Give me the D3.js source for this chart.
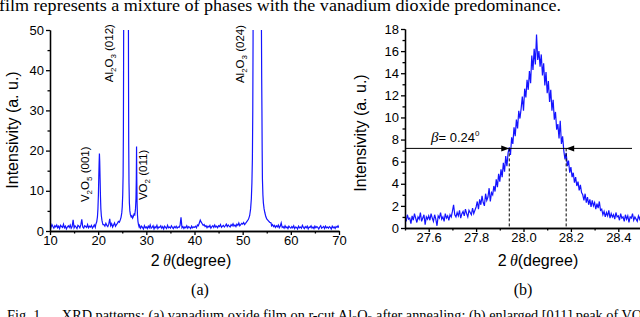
<!DOCTYPE html>
<html>
<head>
<meta charset="utf-8">
<title>XRD patterns</title>
<script src="https://d3js.org/d3.v7.min.js"></script>
<style>
  body { margin: 0; background: #fff; }
  svg { display: block; }
  .tick text { font-family: "Liberation Sans", Arial, sans-serif; font-size: 13px; fill: #000; }
  .axis path, .axis line { stroke: #000; stroke-width: 1.3; }
  .sans { font-family: "Liberation Sans", Arial, sans-serif; }
  .serif { font-family: "Liberation Serif", "Times New Roman", serif; }
</style>
</head>
<body>
<svg id="fig" width="640" height="317"></svg>
<script>
// ---- panel (a): wide scan, background read every 0.2 deg from 10 deg
const scanStart = 10, scanStep = 0.2
const scanY = [
  1.4,0.9,1.6,1.1,0.7,1.3,1.0,1.5,0.8,1.2,
  0.6,1.4,1.1,0.9,1.7,0.8,1.2,0.5,1.0,1.3,
  0.9,1.5,0.7,1.1,2.8,0.8,1.3,1.0,0.6,1.4,
  1.2,0.8,1.5,2.9,1.0,0.7,1.3,1.1,0.9,1.6,
  0.8,1.2,1.0,1.4,0.7,1.1,1.5,0.9,1.3,1.0,
  1.2,1.0,1.0,1.0,1.0,1.0,1.6,1.2,1.9,1.4,
  1.1,1.7,3.0,1.3,1.8,1.0,1.5,2.0,1.2,1.6,
  1.9,2.4,1.8,2.6,2.2,2.5,2.5,2.5,2.5,2.5,
  2,2,2,2,2,2,2,2,2,2,
  1.0,1.0,1.0,1.4,0.7,1.2,0.9,0.5,1.3,0.8,
  1.0,0.6,1.2,0.8,1.5,0.7,0.9,1.3,0.5,1.1,
  0.8,1.4,0.6,1.0,0.9,1.3,0.7,1.1,0.5,1.2,
  0.9,0.6,1.4,0.8,1.0,0.7,1.3,0.9,0.6,1.1,
  0.8,1.2,0.7,1.0,0.9,1.4,3.4,0.8,1.1,0.6,
  1.0,0.8,1.3,0.7,1.1,0.9,0.6,1.2,0.8,1.0,
  0.9,1.2,0.8,1.5,1.3,2.0,2.7,2.2,1.8,1.4,
  1.6,1.1,1.3,0.8,1.2,1.0,1.4,0.7,1.1,1.3,
  0.9,1.5,1.0,1.2,0.8,1.3,1.1,1.6,0.9,1.2,
  1.4,1.0,1.3,1.7,1.1,1.5,1.2,1.0,1.6,1.3,
  1.8,1.2,1.5,1.1,1.7,1.4,2.0,1.3,1.6,1.9,
  1.7,2.1,1.6,2.3,1.9,2.6,2.2,2.5,2.5,2.5,
  2,2,2,2,2,2,2,2,2,2,
  2,2,2,2,2,2.3,1.7,2.1,1.5,1.9,
  1.3,1.6,1.1,1.4,0.9,1.3,1.0,1.5,0.8,1.2,
  2.0,0.9,1.1,0.7,1.3,0.8,1.0,0.6,1.2,0.9,
  0.7,1.1,0.8,1.3,0.6,1.0,0.9,0.5,1.2,0.8,
  1.0,0.7,1.4,0.9,0.6,1.1,0.8,1.2,0.5,1.0,
  0.9,1.3,0.7,1.0,0.6,1.2,0.8,1.1,0.9,0.5,
  1.0,1.3,0.7,0.9,1.1,0.6,1.2,0.8,1.0,0.7,
  1.1,0.9,0.5,1.2,0.8,1.0,0.6,1.1,0.9,1.3,
  0.8
]
// peaks read at finer steps (Al2O3 peaks run far above 50)
const peakV2O5 = [[19.5,1.6],[19.7,2.3],[19.85,3.5],[19.95,5.5],[20.05,9],[20.13,13.5],[20.2,17],[20.26,19.3],
  [20.32,17.5],[20.4,13],[20.48,8.5],[20.56,5.5],[20.66,3.8],[20.78,2.7],[20.9,2.0],[21.0,1.6]]
const peakAl012VO2 = [[24.4,2.2],[24.6,2.8],[24.75,3.4],[24.9,4.5],[25.0,6],[25.1,9],[25.18,14],[25.24,25],
  [25.28,42],[25.31,60],[25.4,200],[25.8,2000],[26.2,200],[26.27,60],[26.3,40],[26.34,22],[26.4,12],[26.48,7],
  [26.58,5],[26.7,4],[26.85,3.5],[27.0,3.8],[27.15,3.2],[27.3,3.6],[27.45,4.2],[27.6,4.0],[27.75,5.5],[27.85,8],
  [27.92,13],[27.97,21],[28.02,13],[28.08,7],[28.16,4],[28.26,2.4],[28.38,1.5],[28.5,1.0]]
const peakAl024 = [[50.6,1.9],[50.9,2.4],[51.2,2.9],[51.45,3.8],[51.65,5.5],[51.8,8],[51.92,12],[52.02,18],
  [52.1,30],[52.16,48],[52.2,80],[53.0,3000],[53.85,80],[53.9,50],[53.95,38],[54.0,30],[54.05,20],[54.1,13],
  [54.2,9],[54.3,7],[54.45,5.5],[54.6,4.6],[54.8,3.6],[55.0,3.0],[55.3,2.6],[55.6,2.2],[55.9,2.0]]
const ticksAx = [10,20,30,40,50,60,70]
const ticksAy = [0,10,20,30,40,50]

// ---- panel (b): VO2 (011) peak, read every 0.005 deg from 27.5
const zoomStart = 27.5, zoomStep = 0.005
const zoomY = [
  1.0,0.6,1.2,0.8,0.9,0.4,1.1,0.7,1.3,0.9,
  0.5,1.0,0.8,1.4,0.6,0.9,1.2,0.3,1.0,0.8,
  1.1,0.7,1.3,0.9,0.6,1.2,0.8,0.2,1.1,0.9,
  1.4,0.8,1.0,0.6,1.3,0.9,1.1,0.7,1.2,1.0,
  1.5,2.1,1.2,1.0,1.4,1.1,1.6,0.9,1.3,1.5,
  1.1,1.7,1.3,1.0,1.6,1.4,1.2,1.8,1.3,1.6,
  1.9,2.4,1.7,2.6,2.1,2.9,2.3,2.0,3.1,2.5,2.8,3.6,2.4,3.2,
  3.0,3.8,3.3,4.4,3.7,4.9,4.2,5.3,4.6,5.9,5.1,6.5,5.6,6.8,
  7.3,6.6,8.2,7.6,9.1,8.3,9.8,9.0,10.6,9.9,
  10.8,11.9,10.6,12.6,11.8,13.4,12.5,14.2,13.1,15.6,
  14.3,16.2,14.8,17.5,15.2,16.0,
  14.6,15.7,13.8,14.9,12.9,14.1,12.2,13.3,11.4,12.5,10.6,11.6,
  9.8,10.5,8.9,9.4,8.1,9.7,7.6,8.3,
  7.0,6.2,6.8,5.6,6.1,5.0,5.5,4.6,5.0,4.1,4.6,3.8,4.2,3.4,3.9,3.2,
  3.0,2.5,3.1,2.3,2.8,2.1,2.6,1.9,2.5,2.0,2.3,1.7,2.2,1.8,2.4,1.6,
  1.7,1.2,1.5,1.0,1.4,1.1,1.6,0.9,1.3,1.0,
  1.2,0.8,1.4,1.0,1.1,0.7,1.3,0.9,1.0,0.6,
  1.2,0.8,1.1,0.5,1.0,0.9,1.3,0.7,1.0,0.8,
  0.6,1.1,0.8,1.2,0.9
]
const ticksBx = [27.6,27.8,28.0,28.2,28.4]
const ticksBy = [0,2,4,6,8,10,12,14,16,18]
const fwhmEdges = [27.94, 28.18]
const fwhmLevel = 7.2

const svg = d3.select('#fig')
const blue = '#1414ff'

// merge the background scan with the peak segments
const peaks = [peakV2O5, peakAl012VO2, peakAl024]
let dataA = scanY.map((v, i) => [scanStart + i * scanStep, v])
  .filter(d => !peaks.some(p => d[0] >= p[0][0] - 0.05 && d[0] <= p[p.length - 1][0] + 0.05))
peaks.forEach(p => { dataA = dataA.concat(p) })
dataA.sort((a, b) => a[0] - b[0])
const dataB = zoomY.map((v, i) => [zoomStart + i * zoomStep, v])

function minorAxis(axisFn, scale, values, size) {
  return axisFn(scale).tickValues(values).tickSize(size).tickSizeOuter(0).tickFormat('')
}

function drawPanel(o) {
  const g = svg.append('g')
  g.append('clipPath').attr('id', o.id).append('rect')
    .attr('x', o.x.range()[0]).attr('y', o.y.range()[1])
    .attr('width', o.x.range()[1] - o.x.range()[0]).attr('height', o.y.range()[0] - o.y.range()[1])

  g.append('path').datum(o.data)
    .attr('clip-path', 'url(#' + o.id + ')')
    .attr('fill', 'none').attr('stroke', blue).attr('stroke-width', 1.2)
    .attr('d', d3.line().x(d => o.x(d[0])).y(d => o.y(d[1])))

  g.append('g').attr('class', 'axis').attr('transform', 'translate(0,' + o.y.range()[0] + ')')
    .call(minorAxis(d3.axisBottom, o.x, o.xMinor, 2.5))
  g.append('g').attr('class', 'axis').attr('transform', 'translate(' + o.x.range()[0] + ',0)')
    .call(minorAxis(d3.axisLeft, o.y, o.yMinor, 2.5))
  g.append('g').attr('class', 'axis').attr('transform', 'translate(0,' + o.y.range()[0] + ')')
    .call(d3.axisBottom(o.x).tickValues(o.xTicks).tickSize(4).tickPadding(1).tickSizeOuter(0).tickFormat(o.xFmt))
  g.append('g').attr('class', 'axis').attr('transform', 'translate(' + o.x.range()[0] + ',0)')
    .call(d3.axisLeft(o.y).tickValues(o.yTicks).tickSize(4).tickPadding(2).tickSizeOuter(0))

  // axis titles
  const xt = g.append('text').attr('class', 'sans').attr('x', o.xTitle[0]).attr('y', o.xTitle[1])
    .attr('text-anchor', 'middle').style('font-size', '16px')
  xt.append('tspan').text('2\u2009')
  xt.append('tspan').attr('class', 'serif').style('font-style', 'italic').text('\u03b8')
  xt.append('tspan').text('(degree)')
  g.append('text').attr('class', 'sans').style('font-size', '16px')
    .attr('transform', 'translate(' + o.yTitle[0] + ',' + o.yTitle[1] + ') rotate(-90)')
    .attr('text-anchor', 'middle').text('Intensivity (a. u.)')
  g.append('text').attr('class', 'serif').style('font-size', '16px')
    .attr('x', o.tag[0]).attr('y', o.tag[1]).attr('text-anchor', 'middle').text(o.tagText)
  return g
}

const xA = d3.scaleLinear().domain([10, 70]).range([50, 339])
const yA = d3.scaleLinear().domain([0, 50]).range([231, 30])
const gA = drawPanel({
  id: 'clipA', x: xA, y: yA, data: dataA,
  xTicks: ticksAx, yTicks: ticksAy,
  xMinor: [15,25,35,45,55,65], yMinor: [5,15,25,35,45],
  xFmt: d3.format('d'),
  xTitle: [191, 266], yTitle: [18, 130], tag: [200, 295], tagText: '(a)'
})

// peak labels, written bottom-to-top
const peakLabels = [
  { at: [18.1, 7.2], parts: [['V'], ['2', 1], ['O'], ['5', 1], [' (001)']] },
  { at: [23.0, 37.0], parts: [['Al'], ['2', 1], ['O'], ['3', 1], [' (012)']] },
  { at: [30.2, 7.7], parts: [['VO'], ['2', 1], [' (011)']] },
  { at: [50.2, 36.8], parts: [['Al'], ['2', 1], ['O'], ['3', 1], [' (024)']] }
]
peakLabels.forEach(l => {
  const t = gA.append('text').attr('class', 'sans').style('font-size', '11.5px')
    .attr('transform', 'translate(' + xA(l.at[0]) + ',' + yA(l.at[1]) + ') rotate(-90)')
  l.parts.forEach(p => {
    const s = t.append('tspan').text(p[0])
    if (p[1]) s.style('font-size', '8px').attr('dy', 3)
    else if (t.selectAll('tspan').size() > 1) s.attr('dy', -3)
  })
})

const xB = d3.scaleLinear().domain([27.5, 28.5]).range([405, 642])
const yB = d3.scaleLinear().domain([0, 18]).range([228, 29])
const gB = drawPanel({
  id: 'clipB', x: xB, y: yB, data: dataB,
  xTicks: ticksBx, yTicks: ticksBy,
  xMinor: [27.5,27.7,27.9,28.1,28.3,28.5], yMinor: [1,3,5,7,9,11,13,15,17],
  xFmt: d3.format('.1f'),
  xTitle: [538, 266], yTitle: [366, 133], tag: [523, 295], tagText: '(b)'
})

// FWHM marker
gB.append('line').attr('x1', xB(27.5)).attr('x2', 632)
  .attr('y1', yB(fwhmLevel)).attr('y2', yB(fwhmLevel)).attr('stroke', '#000').attr('stroke-width', 1)
fwhmEdges.forEach((e, i) => {
  gB.append('line').attr('x1', xB(e)).attr('x2', xB(e)).attr('y1', yB(fwhmLevel)).attr('y2', yB(0))
    .attr('stroke', '#000').attr('stroke-width', 1).attr('stroke-dasharray', '3,2')
  const tip = xB(e), yy = yB(fwhmLevel), dir = i === 0 ? -1 : 1
  gB.append('path').attr('fill', '#000')
    .attr('d', 'M' + tip + ',' + yy + 'L' + (tip + dir * 8) + ',' + (yy - 3) + 'L' + (tip + dir * 8) + ',' + (yy + 3) + 'Z')
})
const bt = gB.append('text').attr('class', 'sans').style('font-size', '13px')
  .attr('x', xB(27.61)).attr('y', yB(fwhmLevel) - 6)
bt.append('tspan').attr('class', 'serif').style('font-style', 'italic').style('font-size', '15px').text('\u03b2')
bt.append('tspan').text('= 0.24')
bt.append('tspan').style('font-size', '8px').attr('dy', -6).text('0')

// surrounding page text
svg.append('text').attr('class', 'serif').style('font-size', '17px')
  .attr('x', -1).attr('y', 11).attr('textLength', 562).attr('lengthAdjust', 'spacingAndGlyphs')
  .text('film represents a mixture of phases with the vanadium dioxide predominance.')
const cap = svg.append('text').attr('class', 'serif').style('font-size', '14.3px').attr('x', 7).attr('y', 320)
cap.append('tspan').text('Fig. 1.\u2003 XRD patterns: (a) vanadium oxide film on r-cut Al')
cap.append('tspan').style('font-size', '10px').attr('dy', 3).text('2')
cap.append('tspan').attr('dy', -3).text('O')
cap.append('tspan').style('font-size', '10px').attr('dy', 3).text('3')
cap.append('tspan').attr('dy', -3).text(' after annealing; (b) enlarged [011] peak of VO')
cap.append('tspan').style('font-size', '10px').attr('dy', 3).text('2')
</script>
</body>
</html>
